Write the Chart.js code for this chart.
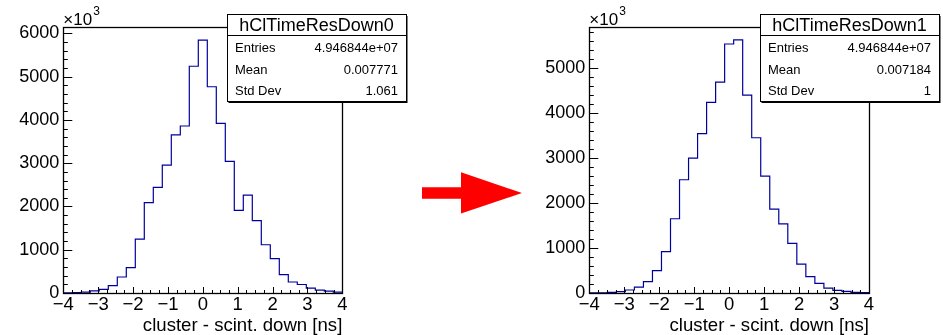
<!DOCTYPE html>
<html>
<head>
<meta charset="utf-8">
<script src="https://cdn.jsdelivr.net/npm/chart.js@4/dist/chart.umd.min.js"></script>
<style>
  html, body { margin: 0; padding: 0; background: #fff; width: 943px; height: 335px; overflow: hidden; }
  #cDown0 { position: absolute; left: 0; top: 0; }
  #cDown1 { position: absolute; left: 526px; top: 0; }
  #arrow  { position: absolute; left: 415px; top: 160px; }
</style>
</head>
<body>
<canvas id="cDown0" width="415" height="335"></canvas>
<svg id="arrow" width="111" height="60" viewBox="415 160 111 60">
  <polygon points="422,187.3 461,187.3 461,172.3 522,193 461,213.5 461,198.7 422,198.7" fill="#ff0000"/>
</svg>
<canvas id="cDown1" width="417" height="335"></canvas>

<script>
// Histogram binning: 31 equal bins between -4 and 4 ns
const binLow = -4;
const binHigh = 4;

// Bin contents (in units of 10^3 entries)
const countsDown0 = [3, 8, 18, 48, 85, 172, 370, 585, 1245, 2090, 2443, 2958, 3654, 3861, 5242,
                     5846, 4769, 3923, 3042, 1911, 2262, 1672, 1115, 795, 423, 254, 196, 112, 66, 42, 19];
const countsDown1 = [2, 6, 15, 30, 67, 130, 252, 500, 920, 1652, 2520, 3000, 3545, 4242, 4692,
                     5542, 5635, 4402, 3455, 2602, 1868, 1537, 1106, 642, 364, 212, 108, 60, 34, 16, 8];

// Axis ticks
const xTickValues = [-4, -3, -2, -1, 0, 1, 2, 3, 4];
const yTicksDown0 = [0, 1000, 2000, 3000, 4000, 5000, 6000];
const yTicksDown1 = [0, 1000, 2000, 3000, 4000, 5000];
const yMaxDown0 = 6150;
const yMaxDown1 = 5920;

// Statistics box contents
const statLabels = ['Entries', 'Mean', 'Std Dev'];
const statsDown0 = ['4.946844e+07', '0.007771', '1.061'];
const statsDown1 = ['4.946844e+07', '0.007184', '1'];
const axisTitle = 'cluster - scint. down [ns]';

const FONT = '"Liberation Sans", Arial, Helvetica, sans-serif';
const LINE_BLUE = '#00009c';

// Each bin becomes a point at its low edge; a closing point sits at the upper edge.
function stepPoints(counts) {
  const w = (binHigh - binLow) / counts.length;
  const pts = counts.map((c, i) => ({ x: binLow + i * w, y: c }));
  pts.push({ x: binHigh, y: counts[counts.length - 1] });
  return pts;
}

function fmtTick(v) {
  return v < 0 ? '\u2212' + Math.abs(v) : String(v);
}

// Frame, inward tick marks, exponent label and statistics box
const rootStyle = {
  id: 'rootStyle',
  afterDatasetsDraw(chart, args, opts) {
    const { ctx, chartArea: a } = chart;
    const xs = chart.scales.x, ys = chart.scales.y;
    ctx.save();
    ctx.strokeStyle = '#000';
    ctx.lineWidth = 1;
    ctx.beginPath();
    // y ticks: major every 1000, minor every 200
    for (let v = 0; v <= ys.max + 1e-6; v += 200) {
      const py = Math.round(ys.getPixelForValue(v)) + 0.5;
      const len = (v % 1000 === 0) ? 9 : 4.5;
      ctx.moveTo(a.left, py); ctx.lineTo(a.left + len, py);
    }
    // x ticks: major every 1, minor every 0.25
    for (let i = 0; i <= 32; i++) {
      const v = binLow + i * 0.25;
      const px = Math.round(xs.getPixelForValue(v)) + 0.5;
      const len = (i % 4 === 0) ? 6 : 3;
      ctx.moveTo(px, a.bottom); ctx.lineTo(px, a.bottom - len);
    }
    ctx.stroke();
    // frame
    ctx.lineWidth = 1.3;
    ctx.strokeRect(Math.round(a.left) + 0.5, Math.round(a.top) + 0.5,
                   Math.round(a.right - a.left), Math.round(a.bottom - a.top));

    // x10^3 exponent
    ctx.fillStyle = '#000';
    ctx.textBaseline = 'alphabetic';
    ctx.textAlign = 'left';
    ctx.font = '17px ' + FONT;
    ctx.fillText('\u00d710', a.left, 25);
    const w10 = ctx.measureText('\u00d710').width;
    ctx.font = '12px ' + FONT;
    ctx.fillText('3', a.left + w10 + 1, 15);

    // statistics box
    const bx = opts.boxLeft, by = 14.5, bw = 179, bh = 87;
    ctx.fillStyle = '#000';
    ctx.fillRect(bx + 1.5, by + 1.5, bw, bh);
    ctx.fillStyle = '#fff';
    ctx.fillRect(bx, by, bw, bh);
    ctx.strokeStyle = '#000';
    ctx.lineWidth = 1;
    ctx.strokeRect(Math.round(bx) + 0.5, by, bw, bh);
    ctx.beginPath();
    ctx.moveTo(bx, 35.5); ctx.lineTo(bx + bw, 35.5);
    ctx.stroke();
    ctx.fillStyle = '#000';
    ctx.textBaseline = 'middle';
    ctx.textAlign = 'center';
    ctx.font = '18px ' + FONT;
    ctx.fillText(opts.name, bx + bw / 2, 26);
    ctx.font = '13px ' + FONT;
    const rowsY = [48.5, 70, 91];
    statLabels.forEach((lab, i) => {
      ctx.textAlign = 'left';
      ctx.fillText(lab, bx + 8, rowsY[i]);
      ctx.textAlign = 'right';
      ctx.fillText(opts.values[i], bx + bw - 8, rowsY[i]);
    });
    ctx.restore();
  }
};

function makeChart(id, counts, yTicks, yMax, name, values, rightPad, boxLeft) {
  return new Chart(document.getElementById(id), {
    type: 'line',
    data: {
      datasets: [{
        data: stepPoints(counts),
        stepped: 'before',
        borderColor: LINE_BLUE,
        borderWidth: 1.2,
        pointRadius: 0,
        fill: false
      }]
    },
    options: {
      responsive: false,
      animation: false,
      devicePixelRatio: 1,
      layout: { padding: { left: 0, top: 27, right: rightPad, bottom: 0 } },
      plugins: {
        legend: { display: false },
        tooltip: { enabled: false },
        rootStyle: { name: name, values: values, boxLeft: boxLeft }
      },
      scales: {
        x: {
          type: 'linear',
          min: binLow, max: binHigh,
          grid: { display: false, drawTicks: false },
          border: { display: false },
          afterBuildTicks: s => { s.ticks = xTickValues.map(v => ({ value: v })); },
          afterFit: s => { s.height = 42; },
          ticks: {
            color: '#000', padding: 3, maxRotation: 0, autoSkip: false,
            font: { family: FONT, size: 18.5, lineHeight: 1 },
            callback: v => fmtTick(v)
          },
          title: {
            display: true, text: axisTitle, align: 'end', color: '#000',
            font: { family: FONT, size: 18.6, lineHeight: 1 },
            padding: { top: 0, bottom: 0 }
          }
        },
        y: {
          type: 'linear',
          min: 0, max: yMax,
          grid: { display: false, drawTicks: false },
          border: { display: false },
          afterBuildTicks: s => { s.ticks = yTicks.map(v => ({ value: v })); },
          afterFit: s => { s.width = 63.3; },
          ticks: {
            color: '#000', padding: 4, autoSkip: false,
            font: { family: FONT, size: 18, lineHeight: 1 },
            callback: v => String(v)
          }
        }
      }
    },
    plugins: [rootStyle]
  });
}

makeChart('cDown0', countsDown0, yTicksDown0, yMaxDown0, 'hClTimeResDown0', statsDown0, 72.7, 227);
makeChart('cDown1', countsDown1, yTicksDown1, yMaxDown1, 'hClTimeResDown1', statsDown1, 74, 234);
</script>
</body>
</html>
